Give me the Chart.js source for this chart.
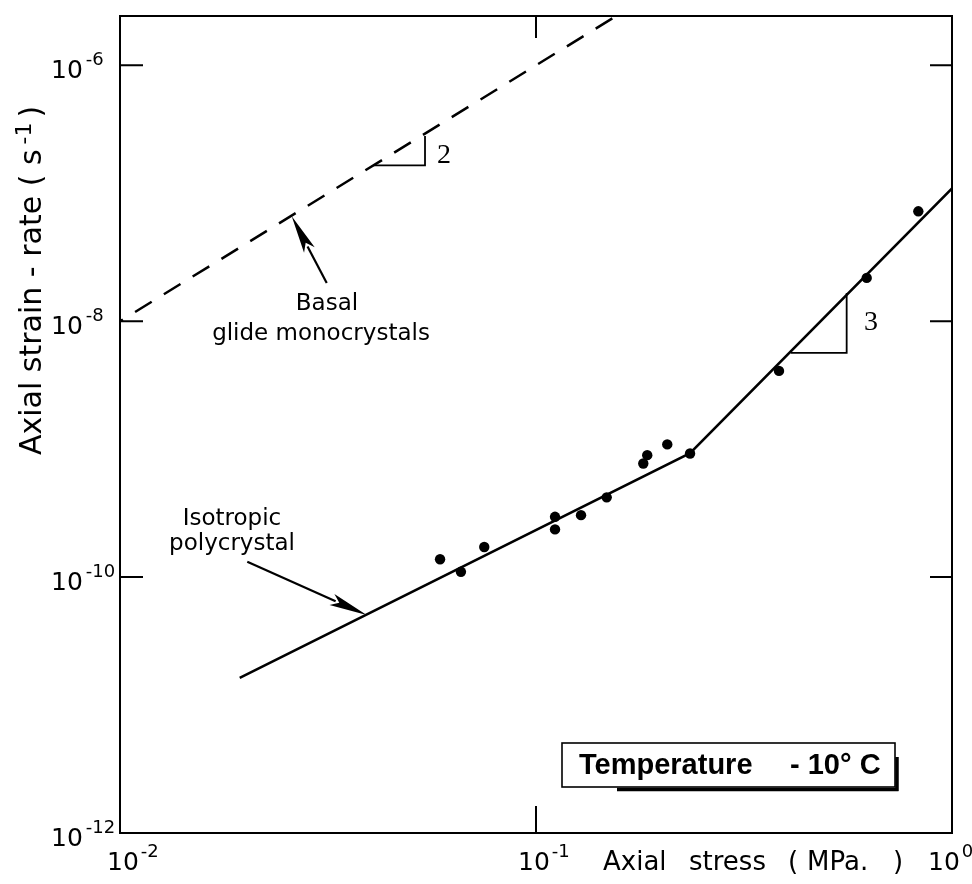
<!DOCTYPE html>
<html><head><meta charset="utf-8">
<script src="https://cdn.jsdelivr.net/npm/chart.js@4.4.1/dist/chart.umd.min.js"></script>
<style>html,body{margin:0;padding:0;background:#fff}#wrap{width:972px;height:884px}</style>
</head><body><div id="wrap"><canvas id="c" width="972" height="884"></canvas></div>
<script>
// ---- data ----
const xTicks = [0.01, 0.1, 1];
const xTickExp = ['-2', '-1', '0'];
const yTicks = [1e-12, 1e-10, 1e-8, 1e-6];
const yTickExp = ['-12', '-10', '-8', '-6'];

const dataStress = [0.0588, 0.0660, 0.0751, 0.1111, 0.1111, 0.1283, 0.1479, 0.1811, 0.1851, 0.2068, 0.2346, 0.3838, 0.6237, 0.8299];
const dataRate   = [1.38e-10, 1.10e-10, 1.72e-10, 2.96e-10, 2.36e-10, 3.05e-10, 4.20e-10, 7.73e-10, 8.98e-10, 1.09e-9, 9.25e-10, 4.09e-9, 2.18e-8, 7.23e-8];

const polyStress = [0.0194, 0.2346, 1.0];
const polyRate   = [1.63e-11, 9.3e-10, 1.09e-7];

const basalStress = [0.01, 0.16];
const basalRate   = [1e-8, 2.56e-6];

const slope2Stress = [0.0406, 0.0541, 0.0541];
const slope2Rate   = [1.655e-7, 1.655e-7, 2.8e-7];
const slope3Stress = [0.4095, 0.5582, 0.5582];
const slope3Rate   = [5.655e-9, 5.655e-9, 1.664e-8];

const arrowBasalStress = [0.0314, 0.02587];
const arrowBasalRate   = [1.99e-8, 6.61e-8];
const arrowPolyStress  = [0.02023, 0.03917];
const arrowPolyRate    = [1.317e-10, 5.05e-11];

const xTitleWords = ['Axial', 'stress', '(', 'MPa.', ')'];
const yTitleMain = 'Axial strain - rate ( s';
const yTitleSup = '-1';
const yTitleEnd = ')';
const boxText1 = 'Temperature';
const boxText2 = '- 10° C';

// ---- chart ----
const INK = '#000';
const pts = (xs, ys) => xs.map((x, i) => ({x: x, y: ys[i]}));

const decor = {
  id: 'decor',
  afterDraw(chart) {
    const ctx = chart.ctx, a = chart.chartArea, xs = chart.scales.x, ys = chart.scales.y;
    ctx.save();
    ctx.strokeStyle = INK; ctx.fillStyle = INK; ctx.lineCap = 'butt';
    // frame
    ctx.lineWidth = 2;
    ctx.strokeRect(a.left, a.top, a.right - a.left, a.bottom - a.top);
    // ticks (inward)
    ctx.lineWidth = 2;
    ctx.beginPath();
    yTicks.forEach(v => {
      if (v <= ys.min) return;
      const py = ys.getPixelForValue(v);
      ctx.moveTo(a.left, py); ctx.lineTo(a.left + 23, py);
      ctx.moveTo(a.right - 22, py); ctx.lineTo(a.right, py);
    });
    xTicks.forEach(v => {
      if (v <= xs.min || v >= xs.max) return;
      const px = xs.getPixelForValue(v);
      ctx.moveTo(px, a.top); ctx.lineTo(px, a.top + 22);
      ctx.moveTo(px, a.bottom - 27); ctx.lineTo(px, a.bottom);
    });
    ctx.stroke();

    // tick labels
    ctx.textBaseline = 'alphabetic'; ctx.textAlign = 'left';
    yTicks.forEach((v, i) => {
      const py = ys.getPixelForValue(v);
      ctx.font = '25px "DejaVu Sans"';
      ctx.fillText('10', 51, py + 13);
      const w = ctx.measureText('10').width;
      ctx.font = '18px "DejaVu Sans"';
      ctx.fillText(yTickExp[i], 51 + w + 3, py);
    });
    const xLabOff = [-13, -18, -24];
    xTicks.forEach((v, i) => {
      const px = xs.getPixelForValue(v);
      ctx.font = '25px "DejaVu Sans"';
      ctx.fillText('10', px + xLabOff[i], 870);
      const w = ctx.measureText('10').width;
      ctx.font = '18px "DejaVu Sans"';
      ctx.fillText(xTickExp[i], px + xLabOff[i] + w + 2, 857);
    });

    // x axis title
    ctx.font = '26px "DejaVu Sans"';
    const xPos = [603, 689, 788, 807, 893];
    xTitleWords.forEach((t, i) => ctx.fillText(t, xPos[i], 870));

    // y axis title (rotated)
    ctx.save();
    ctx.translate(41, 455);
    ctx.rotate(-Math.PI / 2);
    ctx.font = '30px "DejaVu Sans"';
    ctx.fillText(yTitleMain, 0, 0);
    let w = ctx.measureText(yTitleMain).width + 5;
    ctx.font = '22px "DejaVu Sans"';
    ctx.fillText(yTitleSup, w, -10);
    w += ctx.measureText(yTitleSup).width + 5;
    ctx.font = '30px "DejaVu Sans"';
    ctx.fillText(yTitleEnd, w, 0);
    ctx.restore();

    // annotation labels
    ctx.textAlign = 'center';
    ctx.font = '23px "DejaVu Sans"';
    ctx.fillText('Basal', 327, 310);
    ctx.fillText('glide monocrystals', 321, 340);
    ctx.fillText('Isotropic', 232, 525);
    ctx.fillText('polycrystal', 232, 550);
    ctx.textAlign = 'left';
    ctx.font = '28px "Liberation Serif"';
    ctx.fillText('2', 437, 163);
    ctx.fillText('3', 864, 330);

    // arrows
    const arrow = (sx, sy) => {
      const x0 = xs.getPixelForValue(sx[0]), y0 = ys.getPixelForValue(sy[0]);
      const x1 = xs.getPixelForValue(sx[1]), y1 = ys.getPixelForValue(sy[1]);
      const dx = x1 - x0, dy = y1 - y0, L = Math.hypot(dx, dy), ux = dx / L, uy = dy / L;
      const hl = 38, hw = 6;
      ctx.lineWidth = 2.2;
      ctx.beginPath(); ctx.moveTo(x0, y0); ctx.lineTo(x1 - ux * (hl - 4), y1 - uy * (hl - 4)); ctx.stroke();
      ctx.beginPath();
      ctx.moveTo(x1, y1);
      ctx.lineTo(x1 - ux * hl - uy * hw, y1 - uy * hl + ux * hw);
      ctx.lineTo(x1 - ux * (hl - 8), y1 - uy * (hl - 8));
      ctx.lineTo(x1 - ux * hl + uy * hw, y1 - uy * hl - ux * hw);
      ctx.closePath(); ctx.fill();
    };
    arrow(arrowBasalStress, arrowBasalRate);
    arrow(arrowPolyStress, arrowPolyRate);

    // temperature box
    ctx.lineWidth = 1.6;
    ctx.strokeRect(562, 743, 333, 44);
    ctx.lineWidth = 3.5;
    ctx.beginPath();
    ctx.moveTo(617, 789.5); ctx.lineTo(898.5, 789.5);
    ctx.moveTo(897, 757); ctx.lineTo(897, 791);
    ctx.stroke();
    ctx.font = 'bold 29px "Liberation Sans"';
    ctx.fillText(boxText1, 579, 774);
    ctx.fillText(boxText2, 790, 774);
    ctx.restore();
  }
};

new Chart(document.getElementById('c'), {
  type: 'scatter',
  data: {
    datasets: [
      {data: pts(basalStress, basalRate), showLine: true, borderColor: INK, borderWidth: 2.5,
       borderDash: [19.5, 14.3], borderDashOffset: 16.1, pointRadius: 0, tension: 0},
      {data: pts(polyStress, polyRate), showLine: true, borderColor: INK, borderWidth: 2.5, pointRadius: 0, tension: 0},
      {data: pts(slope2Stress, slope2Rate), showLine: true, borderColor: INK, borderWidth: 1.8, pointRadius: 0, tension: 0},
      {data: pts(slope3Stress, slope3Rate), showLine: true, borderColor: INK, borderWidth: 1.8, pointRadius: 0, tension: 0},
      {data: pts(dataStress, dataRate), showLine: false, pointRadius: 5.2, pointBackgroundColor: INK, pointBorderColor: INK, pointBorderWidth: 0}
    ]
  },
  options: {
    responsive: false, animation: false, devicePixelRatio: 1, events: [],
    layout: {padding: {left: 120, top: 16, right: 20, bottom: 51}},
    plugins: {legend: {display: false}, tooltip: {enabled: false}, title: {display: false}},
    scales: {
      x: {type: 'logarithmic', min: 0.01, max: 1, display: false},
      y: {type: 'logarithmic', min: 1e-12, max: 2.43e-6, display: false}
    }
  },
  plugins: [decor]
});
</script>
</body></html>
